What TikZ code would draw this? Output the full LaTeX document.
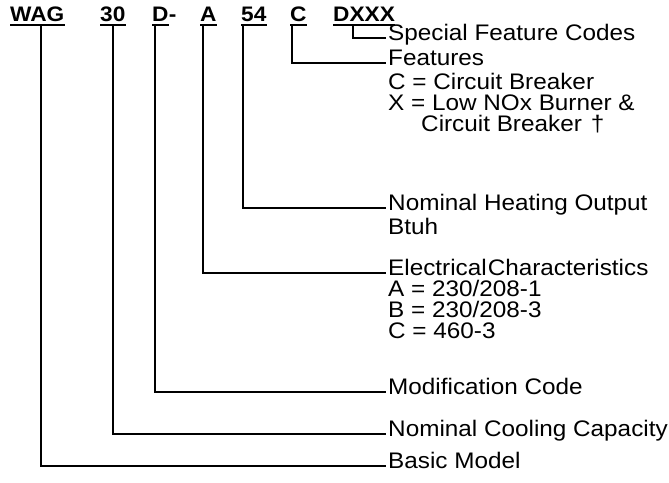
\documentclass[tikz,border=0pt]{standalone}
\usepackage{fontspec}
\setmainfont{Liberation Sans}[FakeStretch=1.08]
\begin{document}
\begin{tikzpicture}[x=1pt,y=-1pt,
  code/.style={font=\bfseries\fontsize{21}{21}\selectfont, inner sep=0pt, anchor=base west},
  lbl/.style={font=\fontsize{22.5}{22.5}\selectfont, inner ysep=0pt, inner xsep=3pt, anchor=mid west},
  conn/.style={line width=1.5pt, line cap=rect},
  uline/.style={line width=1.5pt}]
\useasboundingbox (0,0) rectangle (669,482);
% header codes
\node[code] (wag) at (10,21) {WAG};
\node[code] (n30) at (100,21) {30};
\node[code] (d) at (152,21) {D};
\node[code] (dash) at (d.base east) {-};
\node[code] (a) at (200,21) {A};
\node[code] (n54) at (241,21) {54};
\node[code] (c) at (290,21) {C};
\node[code] (dxxx) at (333,21) {DXXX};
\foreach \n in {wag,n30,d,a,n54,c,dxxx}
  \draw[uline] ([yshift=-4pt]\n.base west) -- ([yshift=-4pt]\n.base east);
% labels
\node[lbl] (sfc) at (385,38) {Special Feature Codes};
\node[lbl] (feat) at (385,63) {Features};
\node[lbl] (featc) at ([yshift=-24pt]feat.mid west) {C = Circuit Breaker};
\node[lbl] (featx) at ([yshift=-21pt]featc.mid west) {X = Low NOx Burner \&};
\node[lbl] (featx2) at ([yshift=-21pt]featx.mid west) {\hspace{33pt}Circuit Breaker\hspace{9pt}†};
\node[lbl] (nho) at (385,208) {Nominal Heating Output};
\node[lbl] (btuh) at ([yshift=-24pt]nho.mid west) {Btuh};
\node[lbl] (elec) at (385,273) {Electrical\hspace{1pt}Characteristics};
\node[lbl] (elA) at ([yshift=-21pt]elec.mid west) {A = 230/208-1};
\node[lbl] (elB) at ([yshift=-21pt]elA.mid west) {B = 230/208-3};
\node[lbl] (elC) at ([yshift=-21pt]elB.mid west) {C = 460-3};
\node[lbl] (mod) at (385,392) {Modification Code};
\node[lbl] (ncc) at (385,434) {Nominal Cooling Capacity};
\node[lbl] (basic) at (385,466) {Basic Model};
% connector top ends
\coordinate (tWAG) at (41,25);
\coordinate (t30) at (113,25);
\coordinate (tD) at (155,25);
\coordinate (tA) at (203,25);
\coordinate (t54) at (243,25);
\coordinate (tC) at (292,25);
\coordinate (tDX) at (353,25);
% connectors
\draw[conn] (tDX) |- (sfc.mid west);
\draw[conn] (tC) |- (feat.mid west);
\draw[conn] (t54) |- (nho.mid west);
\draw[conn] (tA) |- (elec.mid west);
\draw[conn] (tD) |- (mod.mid west);
\draw[conn] (t30) |- (ncc.mid west);
\draw[conn] (tWAG) |- (basic.mid west);
\end{tikzpicture}
\end{document}
